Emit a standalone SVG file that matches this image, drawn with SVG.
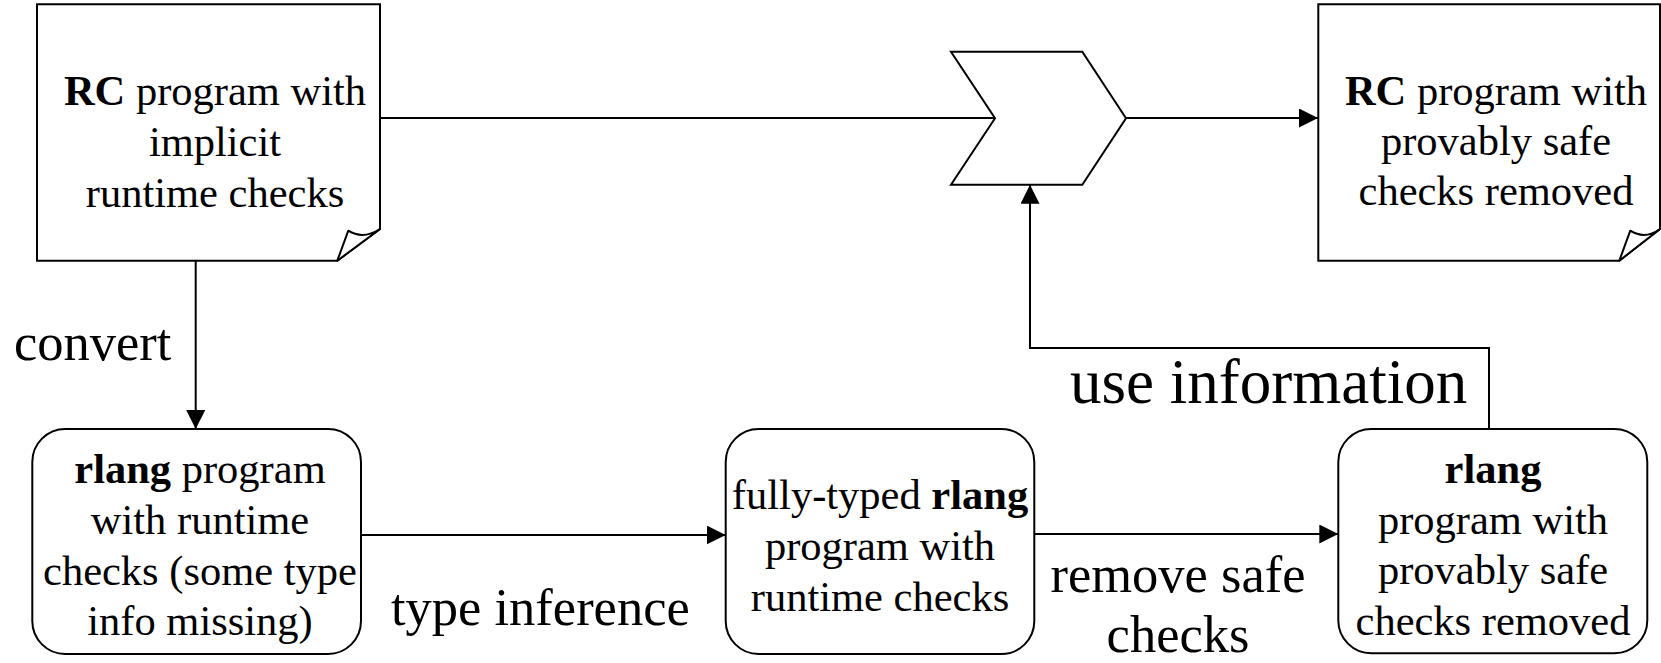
<svg xmlns="http://www.w3.org/2000/svg" width="1661" height="663" viewBox="0 0 1661 663">
  <style>
    .shape { fill: #fff; stroke: #000; stroke-width: 2; stroke-linejoin: miter; }
    .fold { fill: #fff; stroke: #000; stroke-width: 2; stroke-linejoin: round; }
    .edge { fill: none; stroke: #000; stroke-width: 2; }
    .box { font-size: 42.5px; text-anchor: middle; }
    .lbl { font-size: 52.5px; }
    .big { font-size: 63px; }
    .b { font-weight: bold; }
  </style>
  <defs>
    <marker id="arrow" markerUnits="userSpaceOnUse" markerWidth="20" markerHeight="20" refX="19" refY="9.5" orient="auto">
      <path d="M0,0 L19,9.5 L0,19 z" fill="#000"/>
    </marker>
  </defs>

  <rect width="1661" height="663" fill="#fff"/>

  <!-- connectors -->
  <g id="connectors">
    <path class="edge" d="M380,118 H995"/>
    <path class="edge" d="M1126,118 H1318" marker-end="url(#arrow)"/>
    <path class="edge" d="M195.7,260.7 V429" marker-end="url(#arrow)"/>
    <path class="edge" d="M361,535 H725.7" marker-end="url(#arrow)"/>
    <path class="edge" d="M1034.3,534 H1338.3" marker-end="url(#arrow)"/>
    <path class="edge" d="M1489,429 V348 H1030 V184.7" marker-end="url(#arrow)"/>
  </g>

  <g font-family="'Liberation Serif', 'Times New Roman', Times, serif" fill="#000">
    <!-- source document -->
    <g id="rc-source">
      <path class="shape" d="M37,4.3 H380 V229 L337.3,260.7 H37 Z"/>
      <path class="fold" d="M337.3,260.7 L348.3,230.7 Q363,240 380,229 Z"/>
      <text class="box" x="215" y="105"><tspan class="b">RC</tspan> program with</text>
      <text class="box" x="215" y="156">implicit</text>
      <text class="box" x="215" y="207">runtime checks</text>
    </g>

    <!-- merge step -->
    <g id="merge">
      <path class="shape" d="M951,51.7 H1082.3 L1126,118.3 L1082.3,184.7 H951 L995,118.3 Z"/>
    </g>

    <!-- result document -->
    <g id="rc-result">
      <path class="shape" d="M1318.3,4.3 H1660 V229 L1619.3,260.7 H1318.3 Z"/>
      <path class="fold" d="M1619.3,260.7 L1630.3,230.7 Q1645,240 1660,229 Z"/>
      <text class="box" x="1496" y="105"><tspan class="b">RC</tspan> program with</text>
      <text class="box" x="1496" y="155">provably safe</text>
      <text class="box" x="1496" y="205">checks removed</text>
    </g>

    <!-- rlang with runtime checks -->
    <g id="rlang-partial">
      <rect class="shape" x="32.3" y="429" width="328.7" height="225" rx="33" ry="33"/>
      <text class="box" x="200" y="483"><tspan class="b">rlang</tspan> program</text>
      <text class="box" x="200" y="534">with runtime</text>
      <text class="box" x="200" y="585">checks (some type</text>
      <text class="box" x="200" y="635">info missing)</text>
    </g>

    <!-- fully typed rlang -->
    <g id="rlang-typed">
      <rect class="shape" x="725.7" y="429" width="308.6" height="225" rx="33" ry="33"/>
      <text class="box" x="880" y="509">fully-typed <tspan class="b">rlang</tspan></text>
      <text class="box" x="880" y="560">program with</text>
      <text class="box" x="880" y="611">runtime checks</text>
    </g>

    <!-- rlang with safe checks removed -->
    <g id="rlang-result">
      <rect class="shape" x="1338.3" y="429" width="309" height="224.3" rx="33" ry="33"/>
      <text class="box b" x="1493" y="483">rlang</text>
      <text class="box" x="1493" y="534">program with</text>
      <text class="box" x="1493" y="584">provably safe</text>
      <text class="box" x="1493" y="635">checks removed</text>
    </g>

    <!-- edge labels -->
    <g id="labels">
      <text class="lbl" x="14" y="360">convert</text>
      <text class="lbl" x="391" y="625">type inference</text>
      <text class="lbl" x="1178" y="592" text-anchor="middle">remove safe</text>
      <text class="lbl" x="1178" y="652" text-anchor="middle">checks</text>
      <text class="big" x="1070" y="403">use information</text>
    </g>
  </g>
</svg>
